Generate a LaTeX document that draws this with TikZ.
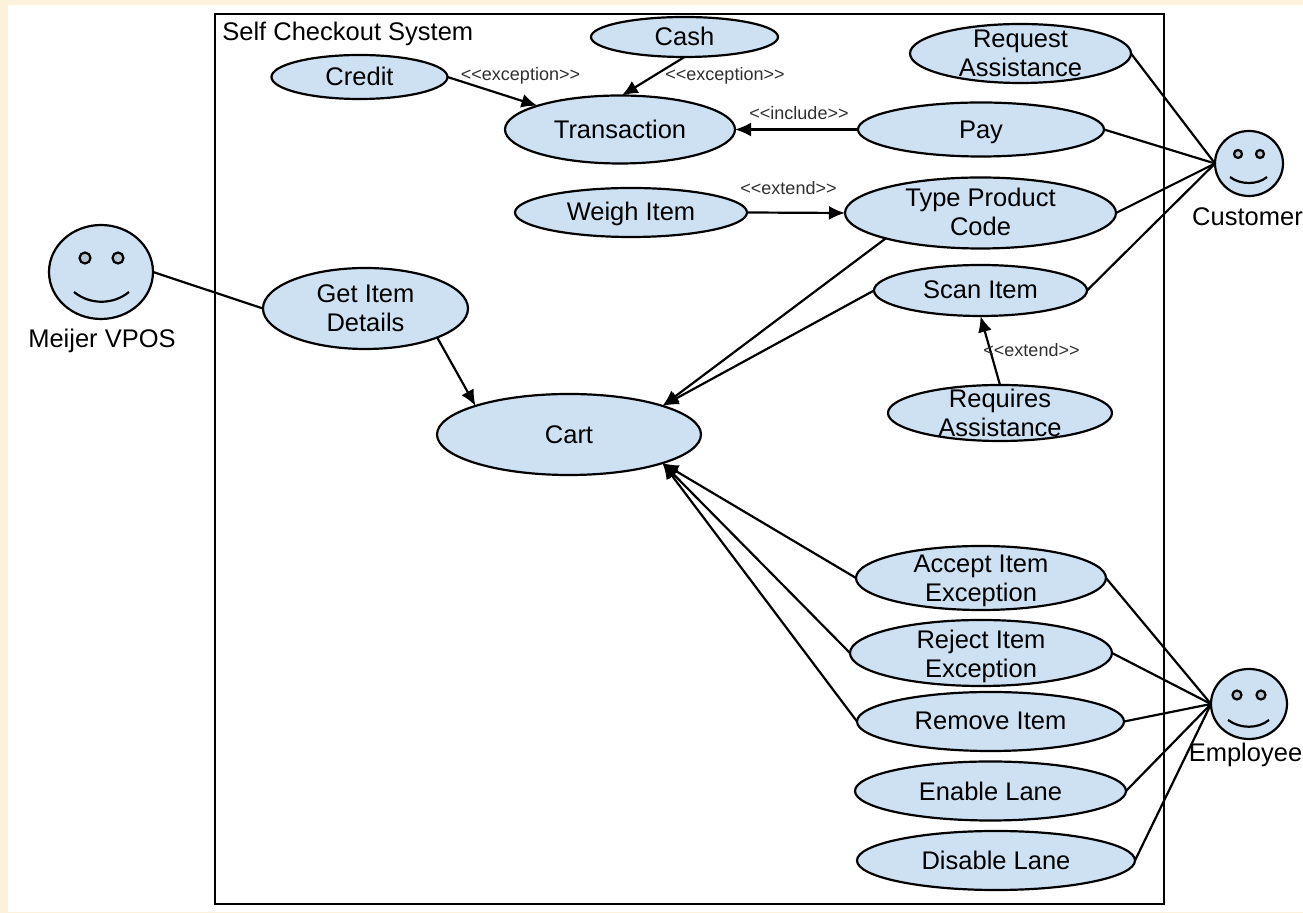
\documentclass[tikz,border=0pt]{standalone}
\usepackage{fontspec}
\setmainfont{Liberation Sans}
\usetikzlibrary{shapes.geometric,arrows.meta}
\definecolor{ucblue}{HTML}{CEE1F3}
\definecolor{cream}{HTML}{FCF2DC}
\definecolor{stereo}{HTML}{303030}
\tikzset{
  uc/.style n args={2}{ellipse,draw=black,line width=1.1pt,fill=ucblue,inner sep=0pt,outer sep=0pt,
    minimum width=#1pt,minimum height=#2pt},
  uctext/.style n args={2}{label={[align=center,inner sep=0pt,yshift=#2pt,font=\fontsize{12.75}{14.5}\selectfont]center:#1}},
  actorhead/.style={ellipse,draw=black,line width=1.1pt,fill=ucblue,inner sep=0pt,outer sep=0pt},
  actorname/.style={font=\fontsize{12.75}{14.5}\selectfont,inner sep=0pt},
  eye/.style={draw=black,line width=1.1pt,fill=ucblue!70!gray},
  smile/.style={draw=black,line width=1.1pt},
  stereotype/.style={font=\fontsize{9}{11}\selectfont,text=stereo,inner sep=0pt},
  assoc/.style={draw=black,line width=1.1pt},
  dep/.style={draw=black,line width=1.1pt,-{Latex[length=8pt,width=7pt]}},
}
\begin{document}
\begin{tikzpicture}[x=0.5pt,y=-0.5pt]
\useasboundingbox (0,0) rectangle (1303,913);
\fill[cream] (0,0) rectangle (1303,913);
\fill[white] (8,5) rectangle (1303,912);
\node[draw=black,line width=1.25pt,minimum width=474.5pt,minimum height=445pt,inner sep=0pt,outer sep=0pt] (sys) at (689.5,459) {};
\node[anchor=base west,inner sep=0pt,font=\fontsize{12.75}{14.5}\selectfont] (title) at (222,41) {Self Checkout System};
% use cases
\node[uc={88}{22},uctext={Credit}{0.5}] (credit) at (359.5,77) {};
\node[uc={93.5}{20},uctext={Cash}{0.5}] (cash) at (684.5,37) {};
\node[uc={115}{34},uctext={Transaction}{0}] (trans) at (620,129.5) {};
\node[uc={116}{24.5},uctext={Weigh Item}{-0.9}] (weigh) at (631,212.5) {};
\node[uc={110.5}{29.5},uctext={Request\\Assistance}{0}] (req) at (1020.5,53.5) {};
\node[uc={123}{27},uctext={Pay}{-1.4}] (pay) at (981,129.5) {};
\node[uc={135.5}{35.5},uctext={Type Product\\Code}{0.5}] (type) at (980.5,213) {};
\node[uc={106.5}{25.5},uctext={Scan Item}{0.5}] (scan) at (980.5,290.5) {};
\node[uc={112}{28},uctext={Requires\\Assistance}{0}] (requires) at (1000,413) {};
\node[uc={102.5}{40.5},uctext={Get Item\\Details}{0}] (get) at (365.5,308.5) {};
\node[uc={132}{40.5},uctext={Cart}{0}] (cart) at (569,434.5) {};
\node[uc={125}{32},uctext={Accept Item\\Exception}{-1.5}] (accept) at (981,578) {};
\node[uc={131}{33},uctext={Reject Item\\Exception}{-1.5}] (reject) at (981,653) {};
\node[uc={133.5}{29.5},uctext={Remove Item}{0.5}] (remove) at (990.5,721.5) {};
\node[uc={135.5}{29.5},uctext={Enable Lane}{0}] (enable) at (990.5,791) {};
\node[uc={139}{29.5},uctext={Disable Lane}{0}] (disable) at (996,860.5) {};
% actors
\node[actorhead,minimum width=52pt,minimum height=47pt] (meijer) at (101,272) {};
\draw[eye] (85,258) circle[radius=5.5];
\draw[eye] (118,258) circle[radius=5.5];
\draw[smile] (74,292) .. controls (90,305) and (113,305) .. (129,292);
\node[actorname] (meijerlabel) at (102,340.5) {Meijer VPOS};
\node[actorhead,minimum width=34pt,minimum height=32.5pt] (customer) at (1249,163.5) {};
\draw[eye] (1238,154) circle[radius=4];
\draw[eye] (1260,154) circle[radius=4];
\draw[smile] (1230,177) .. controls (1240,185) and (1258,185) .. (1267,177);
\node[actorname] (customerlabel) at (1247.5,217) {Customer};
\node[actorhead,minimum width=38pt,minimum height=35pt] (employee) at (1249,704) {};
\draw[eye] (1237,695) circle[radius=4.5];
\draw[eye] (1261,695) circle[radius=4.5];
\draw[smile] (1228,720) .. controls (1240,729) and (1258,729) .. (1269,720);
\node[actorname] (employeelabel) at (1245.5,755) {Employee};
% associations
\draw[assoc] (meijer.east) -- (get.west);
\draw[assoc] (req.east) -- (customer.west);
\draw[assoc] (pay.east) -- (customer.west);
\draw[assoc] (type.east) -- (customer.west);
\draw[assoc] (scan.east) -- (customer.west);
\draw[assoc] (accept.east) -- (employee.west);
\draw[assoc] (reject.east) -- (employee.west);
\draw[assoc] (remove.east) -- (employee.west);
\draw[assoc] (enable.east) -- (employee.west);
\draw[assoc] (disable.east) -- (employee.west);
% dependencies
\draw[dep] (credit.east) -- (trans.164);
\draw[dep] (cash.south) -- (trans.87);
\draw[dep] (pay.west) -- (trans.east);
\draw[dep] (weigh.east) -- (type.west);
\draw[dep] (requires.north) -- (scan.south);
\draw[dep] (type.195) -- (cart.17);
\draw[dep] (scan.west) -- (cart.17);
\draw[dep] (get.-22) -- (cart.163);
\draw[dep] (accept.west) -- (cart.-17);
\draw[dep] (reject.west) -- (cart.-17);
\draw[dep] (remove.west) -- (cart.-17);
% stereotypes
\node[stereotype] (s1) at (520.5,76) {<{}<exception>{}>};
\node[stereotype] (s2) at (725,76) {<{}<exception>{}>};
\node[stereotype] (s3) at (799,113) {<{}<include>{}>};
\node[stereotype] (s4) at (788.5,188) {<{}<extend>{}>};
\node[stereotype] (s5) at (1031.5,350) {<{}<extend>{}>};
\end{tikzpicture}
\end{document}
